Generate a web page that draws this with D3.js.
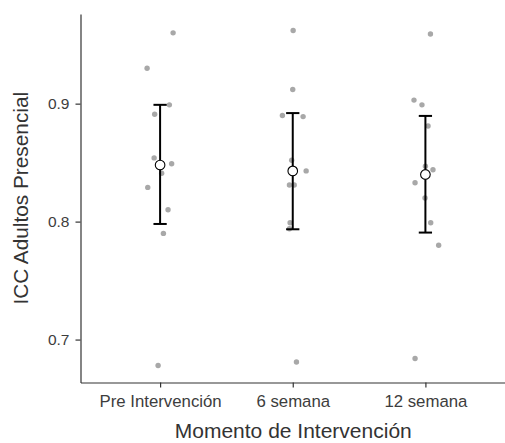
<!DOCTYPE html>
<html>
<head>
<meta charset="utf-8">
<script src="https://cdn.jsdelivr.net/npm/d3@7"></script>
<style>
  body { margin: 0; background: #fff; }
  text { font-family: "Liberation Sans", Arial, Helvetica, sans-serif; }
</style>
</head>
<body>
<svg id="chart" width="505" height="443"></svg>
<script>
// categories on the x axis
const categories = ["Pre Intervención", "6 semana", "12 semana"];

// individual ICC values per moment
const preValues = [0.960, 0.930, 0.899, 0.891, 0.854, 0.849, 0.841, 0.829, 0.810, 0.790, 0.678];
const sem6Values = [0.962, 0.912, 0.890, 0.889, 0.852, 0.843, 0.831, 0.831, 0.799, 0.794, 0.681];
const sem12Values = [0.959, 0.903, 0.899, 0.881, 0.847, 0.844, 0.833, 0.820, 0.799, 0.780, 0.684];

// horizontal jitter of each point, in fractions of a category step
const preJitter = [0.098, -0.098, 0.070, -0.041, -0.045, 0.087, 0.012, -0.093, 0.060, 0.025, -0.015];
const sem6Jitter = [0.003, 0.000, -0.078, 0.078, -0.008, 0.101, -0.025, 0.011, -0.020, -0.025, 0.028];
const sem12Jitter = [0.038, -0.086, -0.026, 0.020, 0.000, 0.057, -0.078, -0.003, 0.040, 0.100, -0.078];

// mean and error bar limits
const means = [0.848, 0.843, 0.840];
const lower = [0.798, 0.7935, 0.7907];
const upper = [0.899, 0.892, 0.8896];

const yTicks = [0.7, 0.8, 0.9];

const svg = d3.select("#chart");
const margin = { top: 14, right: 0, bottom: 60.5, left: 80.5 };
const width = +svg.attr("width");
const height = +svg.attr("height");
const axisColor = "#333333";

const x = d3.scalePoint()
  .domain(categories)
  .range([margin.left, width - margin.right])
  .padding(0.6);

const y = d3.scaleLinear()
  .domain([0.6636, 0.976])
  .range([height - margin.bottom, margin.top]);

// points
const valueSets = [preValues, sem6Values, sem12Values];
const jitterSets = [preJitter, sem6Jitter, sem12Jitter];
const points = [];
categories.forEach((c, i) => {
  valueSets[i].forEach((v, j) => {
    points.push({ cat: c, value: v, jit: jitterSets[i][j] });
  });
});

// axes
const yAxis = svg.append("g")
  .attr("transform", `translate(${margin.left},0)`)
  .call(d3.axisLeft(y).tickValues(yTicks).tickFormat(d3.format(".1f")).tickSize(5).tickSizeOuter(0).tickPadding(6));

const xAxis = svg.append("g")
  .attr("transform", `translate(0,${height - margin.bottom})`)
  .call(d3.axisBottom(x).tickSize(5).tickSizeOuter(0).tickPadding(8));

[yAxis, xAxis].forEach((ax) => {
  ax.select(".domain").attr("stroke", axisColor).attr("stroke-width", 1.2);
  ax.selectAll(".tick line").attr("stroke", axisColor).attr("stroke-width", 1.2);
  ax.selectAll(".tick text")
    .attr("fill", "#3d3d3d")
    .style("font-family", "'Liberation Sans', Arial, sans-serif");
});
yAxis.selectAll(".tick text").style("font-size", "15.5px");
xAxis.selectAll(".tick text").style("font-size", "16.8px");

// jittered points
svg.append("g")
  .selectAll("circle")
  .data(points)
  .enter()
  .append("circle")
  .attr("cx", (d) => x(d.cat) + d.jit * x.step())
  .attr("cy", (d) => y(d.value))
  .attr("r", 2.7)
  .attr("fill", "#a8a8a8");

// error bars
const capHalf = 0.05 * x.step();
const bars = svg.append("g").attr("stroke", "#000").attr("stroke-width", 2);
categories.forEach((c, i) => {
  const cx = x(c);
  bars.append("line")
    .attr("x1", cx).attr("x2", cx)
    .attr("y1", y(upper[i])).attr("y2", y(lower[i]));
  bars.append("line")
    .attr("x1", cx - capHalf).attr("x2", cx + capHalf)
    .attr("y1", y(upper[i])).attr("y2", y(upper[i]));
  bars.append("line")
    .attr("x1", cx - capHalf).attr("x2", cx + capHalf)
    .attr("y1", y(lower[i])).attr("y2", y(lower[i]));
});

// means
svg.append("g")
  .selectAll("circle")
  .data(means)
  .enter()
  .append("circle")
  .attr("cx", (d, i) => x(categories[i]))
  .attr("cy", (d) => y(d))
  .attr("r", 4.8)
  .attr("fill", "#fff")
  .attr("stroke", "#000")
  .attr("stroke-width", 1.1);

// axis titles
svg.append("text")
  .attr("x", (margin.left + width) / 2 + 0.5)
  .attr("y", 438)
  .attr("text-anchor", "middle")
  .style("font-size", "21px")
  .attr("fill", "#333")
  .text("Momento de Intervención");

svg.append("text")
  .attr("transform", `translate(28,${(margin.top + height - margin.bottom) / 2}) rotate(-90)`)
  .attr("text-anchor", "middle")
  .style("font-size", "20.8px")
  .attr("fill", "#333")
  .text("ICC Adultos Presencial");
</script>
</body>
</html>
